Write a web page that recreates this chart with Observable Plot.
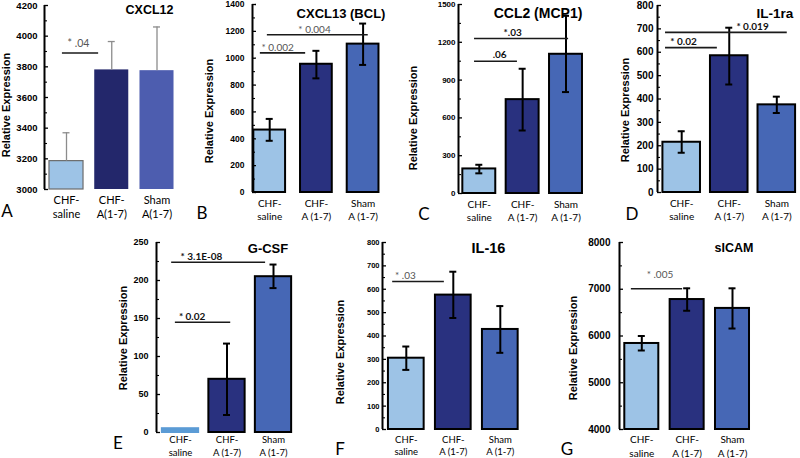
<!DOCTYPE html>
<html>
<head>
<meta charset="utf-8">
<script src="https://cdn.jsdelivr.net/npm/d3@7"></script>
<script src="https://cdn.jsdelivr.net/npm/@observablehq/plot@0.6"></script>
<style>
  html, body { margin: 0; padding: 0; background: #fff; }
  #fig { position: relative; width: 800px; height: 458px; overflow: hidden; background: #fff; }
  #fig svg { position: absolute; overflow: visible; background: transparent; }
  .lbl { position: absolute; white-space: nowrap; transform: translate(-50%, -50%); line-height: 1; }
  .ytitle { font-family: "Liberation Sans", Arial, sans-serif; font-weight: bold; font-size: 11px; color: #000; }
  .ptitle { font-family: "Liberation Sans", Arial, sans-serif; font-weight: bold; color: #000; }
  .letter { font-family: Lato, "Open Sans", sans-serif; font-size: 17px; color: #000; }
</style>
</head>
<body>
<div id="fig"></div>
<script>
// ---------- categories ----------
const groupsA = ["CHF-\nsaline", "CHF-\nA(1-7)", "Sham\nA(1-7)"];
const groups = ["CHF-\nsaline", "CHF-\nA (1-7)", "Sham\nA (1-7)"];
const yTitle = "Relative Expression";

// ---------- A: CXCL12 ----------
const cxcl12Mean = [3185, 3780, 3775];
const cxcl12Lo = [null, null, null];
const cxcl12Hi = [3370, 3965, 4060];
const cxcl12Ticks = [3000, 3200, 3400, 3600, 3800, 4000, 4200];
const cxcl12Sig = [{y: 3890, from: -0.09, to: 0.71, at: 0.265, label: "* .04"}];

// ---------- B: CXCL13 (BCL) ----------
const cxcl13Mean = [465, 955, 1105];
const cxcl13Lo = [385, 850, 950];
const cxcl13Hi = [548, 1055, 1258];
const cxcl13Ticks = [0, 200, 400, 600, 800, 1000, 1200, 1400];
const cxcl13Sig = [
  {y: 1040, from: -0.2, to: 0.77, at: 0.17, label: "* 0.002"},
  {y: 1175, from: -0.05, to: 2.11, at: 0.96, label: "* 0.004"}
];

// ---------- C: CCL2 (MCP1) ----------
const ccl2Mean = [195, 745, 1105];
const ccl2Lo = [160, 500, 805];
const ccl2Hi = [228, 990, 1410];
const ccl2Ticks = [0, 300, 600, 900, 1200, 1500];
const ccl2Sig = [
  {y: 1050, from: -0.11, to: 0.88, at: 0.47, label: ".06"},
  {y: 1230, from: -0.11, to: 2.06, at: 0.77, label: "*.03"}
];

// ---------- D: IL-1ra ----------
const il1raMean = [215, 585, 375];
const il1raLo = [170, 462, 340];
const il1raHi = [262, 705, 410];
const il1raTicks = [0, 100, 200, 300, 400, 500, 600, 700, 800];
const il1raSig = [
  {y: 620, from: -0.34, to: 0.75, at: 0.04, label: "* 0.02"},
  {y: 685, from: -0.34, to: 2.22, at: 1.49, label: "* 0.019"}
];

// ---------- E: G-CSF ----------
const gcsfMean = [5, 70, 205];
const gcsfLo = [null, 23, 190];
const gcsfHi = [null, 117, 221];
const gcsfTicks = [0, 50, 100, 150, 200, 250];
const gcsfSig = [
  {y: 145, from: -0.11, to: 1.08, at: 0.25, label: "* 0.02"},
  {y: 224, from: -0.19, to: 1.83, at: 0.45, label: "* 3.1E-08"}
];

// ---------- F: IL-16 ----------
const il16Mean = [305, 575, 428];
const il16Lo = [255, 477, 328];
const il16Hi = [355, 675, 528];
const il16Ticks = [0, 100, 200, 300, 400, 500, 600, 700, 800];
const il16Sig = [{y: 633, from: -0.29, to: 0.81, at: -0.02, label: "* .03"}];

// ---------- G: sICAM ----------
const sicamMean = [5840, 6780, 6590];
const sicamLo = [5690, 6540, 6160];
const sicamHi = [6000, 7020, 7020];
const sicamTicks = [4000, 5000, 6000, 7000, 8000];
const sicamSig = [{y: 7010, from: -0.23, to: 0.9, at: 0.4, label: "* .005"}];

// ---------- colours ----------
const colorsA = ["#9dc3e6", "#23276b", "#4d5daf"];
const colors = ["#9dc3e6", "#29317f", "#4667b5"];
const colorsE = ["#5b9bd5", "#29317f", "#4667b5"];

// ---------- layout (page pixels) ----------
const panels = [
  {letter: "A", title: "CXCL12", groups: groupsA, mean: cxcl12Mean, lo: cxcl12Lo, hi: cxcl12Hi, ticks: cxcl12Ticks, sig: cxcl12Sig, colors: colorsA,
   axisX: 44, rightX: 180, yTop: 5, yBot: 189, c0: 66, step: 45.25, hw: 0.376,
   tickFont: 9.5, tickFamily: "Liberation Sans", tickGap: 7, xlFont: 11, xlDy: 4.5, xlLH: 1.3, sigFont: 10.5, sigBold: false, sigFill: "#555", sigDy: -6,
   errColor: "#8c8c8c", errW: 1.3, barStroke: ["#6b6b6b", "none", "none"], barSW: 1.2,
   titlePos: [149.5, 10], titleSize: 12.5, letterPos: [7, 210], yTitlePos: [6, 105]},
  {letter: "B", title: "CXCL13 (BCL)", groups, mean: cxcl13Mean, lo: cxcl13Lo, hi: cxcl13Hi, ticks: cxcl13Ticks, sig: cxcl13Sig, colors,
   axisX: 252, rightX: 383, yTop: 4, yBot: 192, c0: 269.2, step: 46.7, hw: 0.34,
   tickFont: 8.5, tickFamily: "Liberation Sans", tickGap: 8, xlFont: 10, xlDy: 4.5, xlLH: 1.35, sigFont: 10, sigBold: false, sigFill: "#555", sigDy: -1.5,
   errColor: "#000", errW: 2, barStroke: ["#000", "#000", "#000"], barSW: 2,
   titlePos: [341, 12.5], titleSize: 13, letterPos: [202, 212], yTitlePos: [209, 111]},
  {letter: "C", title: "CCL2 (MCP1)", groups, mean: ccl2Mean, lo: ccl2Lo, hi: ccl2Hi, ticks: ccl2Ticks, sig: ccl2Sig, colors,
   axisX: 458, rightX: 587, yTop: 4, yBot: 193, c0: 478.8, step: 43.35, hw: 0.38,
   tickFont: 8, tickFamily: "Liberation Sans", tickGap: 3, xlFont: 10, xlDy: 4.5, xlLH: 1.35, sigFont: 10, sigBold: true, sigFill: "#111", sigDy: -3,
   errColor: "#000", errW: 2, barStroke: ["#000", "#000", "#000"], barSW: 2,
   titlePos: [538, 13], titleSize: 14, letterPos: [424, 213], yTitlePos: [413, 118]},
  {letter: "D", title: "IL-1ra", groups, mean: il1raMean, lo: il1raLo, hi: il1raHi, ticks: il1raTicks, sig: il1raSig, colors,
   axisX: 657, rightX: 799, yTop: 5, yBot: 192, c0: 681.2, step: 47.55, hw: 0.395,
   tickFont: 10, tickFamily: "Liberation Sans", tickGap: 4, xlFont: 10, xlDy: 4.5, xlLH: 1.35, sigFont: 10, sigBold: true, sigFill: "#111", sigDy: -2.5,
   errColor: "#000", errW: 2, barStroke: ["#000", "#000", "#000"], barSW: 2,
   titlePos: [775, 14], titleSize: 13.5, letterPos: [632, 213], yTitlePos: [625, 110]},
  {letter: "E", title: "G-CSF", groups, mean: gcsfMean, lo: gcsfLo, hi: gcsfHi, ticks: gcsfTicks, sig: gcsfSig, colors: colorsE,
   axisX: 156, rightX: 298, yTop: 242, yBot: 432, c0: 180, step: 46.5, hw: 0.39,
   tickFont: 9, tickFamily: "Liberation Sans", tickGap: 8, xlFont: 9.5, xlDy: 2, xlLH: 1.3, sigFont: 10, sigBold: true, sigFill: "#111", sigDy: -2,
   errColor: "#000", errW: 2, barStroke: ["#5b9bd5", "#000", "#000"], barSW: 2,
   titlePos: [268, 248], titleSize: 13, letterPos: [118, 442], yTitlePos: [123, 338]},
  {letter: "F", title: "IL-16", groups, mean: il16Mean, lo: il16Lo, hi: il16Hi, ticks: il16Ticks, sig: il16Sig, colors,
   axisX: 382, rightX: 524, yTop: 242, yBot: 429, c0: 405.8, step: 47, hw: 0.38,
   tickFont: 7.5, tickFamily: "Liberation Sans", tickGap: 3, xlFont: 9.5, xlDy: 4, xlLH: 1.35, sigFont: 10, sigBold: false, sigFill: "#555", sigDy: -3,
   errColor: "#000", errW: 2, barStroke: ["#000", "#000", "#000"], barSW: 2,
   titlePos: [488.5, 248], titleSize: 14.5, letterPos: [340, 448], yTitlePos: [340, 352]},
  {letter: "G", title: "sICAM", groups, mean: sicamMean, lo: sicamLo, hi: sicamHi, ticks: sicamTicks, sig: sicamSig, colors,
   axisX: 619, rightX: 755, yTop: 242, yBot: 429, c0: 641.3, step: 45.35, hw: 0.375,
   tickFont: 10, tickFamily: "Liberation Sans", tickGap: 9, xlFont: 10, xlDy: 4, xlLH: 1.35, sigFont: 10, sigBold: false, sigFill: "#555", sigDy: -11,
   errColor: "#000", errW: 2, barStroke: ["#000", "#000", "#000"], barSW: 2,
   titlePos: [734, 248], titleSize: 12.5, letterPos: [567, 448], yTitlePos: [573, 348]}
];

const fig = document.getElementById("fig");

function addLabel(text, cls, pos, extra) {
  const d = document.createElement("div");
  d.className = "lbl " + cls;
  d.textContent = text;
  d.style.left = pos[0] + "px";
  d.style.top = pos[1] + "px";
  if (extra) Object.assign(d.style, extra);
  fig.appendChild(d);
  return d;
}

for (const p of panels) {
  const left = p.axisX - 46;
  const top = p.yTop - 8;
  const width = p.rightX - left + 3;
  const height = Math.min(p.yBot + 30, 458) - top;
  const mL = p.axisX - left, mT = p.yTop - top;
  const mR = width - (p.rightX - left), mB = height - (p.yBot - top);
  const plotW = p.rightX - p.axisX;
  const xDom = [(p.axisX - p.c0) / p.step, (p.rightX - p.c0) / p.step];
  const yDom = [p.ticks[0], p.ticks[p.ticks.length - 1]];
  const half = (p.ticks[1] - p.ticks[0]) / 2;
  const minor = p.ticks.slice(0, -1).map(t => t + half);
  const cap = 3.5 / p.step;

  const rows = p.groups.map((g, i) => ({
    i, label: g, mean: p.mean[i], lo: p.lo[i], hi: p.hi[i], fill: p.colors[i], stroke: p.barStroke[i]
  }));
  const errRows = rows.filter(d => d.hi != null);
  const loRows = rows.filter(d => d.lo != null);

  const chart = Plot.plot({
    width, height,
    marginLeft: mL, marginRight: mR, marginTop: mT, marginBottom: mB,
    x: {domain: xDom, axis: null},
    y: {domain: yDom, axis: null},
    color: {type: "identity"},
    style: {fontFamily: "Liberation Sans, Arial, sans-serif", background: "transparent", overflow: "visible"},
    marks: [
      Plot.rectY(rows, {
        x1: d => d.i - p.hw, x2: d => d.i + p.hw,
        y1: d => yDom[0], y2: "mean",
        fill: "fill", stroke: "stroke", strokeWidth: p.barSW
      }),
      Plot.ruleX(errRows, {x: "i", y1: d => d.lo ?? d.mean, y2: "hi", stroke: p.errColor, strokeWidth: p.errW}),
      Plot.ruleY(errRows, {y: "hi", x1: d => d.i - cap, x2: d => d.i + cap, stroke: p.errColor, strokeWidth: p.errW}),
      Plot.ruleY(loRows, {y: "lo", x1: d => d.i - cap, x2: d => d.i + cap, stroke: p.errColor, strokeWidth: p.errW}),
      Plot.ruleY(p.sig, {y: "y", x1: "from", x2: "to", stroke: "#1a1a1a", strokeWidth: 1.6}),
      Plot.text(p.sig, {
        x: "at", y: "y", text: "label", lineAnchor: "bottom", dy: p.sigDy,
        fontSize: p.sigFont, fontFamily: "Lato, Open Sans, sans-serif",
        fontWeight: p.sigBold ? "bold" : "normal", fill: p.sigFill
      }),
      Plot.tickY(p.ticks, {y: d => d, insetRight: plotW - 4, stroke: "#000", strokeWidth: 1.3}),
      Plot.tickY(minor, {y: d => d, insetRight: plotW - 3, stroke: "#000", strokeWidth: 1.1}),
      Plot.ruleX([xDom[0]], {stroke: "#000", strokeWidth: 2}),
      Plot.axisY(p.ticks, {
        tickSize: 0, tickPadding: p.tickGap, label: null, tickFormat: d => String(d),
        fontSize: p.tickFont, fontFamily: p.tickFamily, fontWeight: "bold", fill: "#000"
      }),
      Plot.text(rows, {
        x: "i", y: d => yDom[0], text: "label", lineAnchor: "top", dy: p.xlDy,
        fontSize: p.xlFont, fontFamily: "Lato, Open Sans, sans-serif", lineHeight: p.xlLH, fill: "#000"
      })
    ]
  });
  chart.style.left = left + "px";
  chart.style.top = top + "px";
  fig.appendChild(chart);

  addLabel(p.title, "ptitle", p.titlePos, {fontSize: p.titleSize + "px"});
  addLabel(p.letter, "letter", p.letterPos);
  addLabel(yTitle, "ytitle", p.yTitlePos, {transform: "translate(-50%, -50%) rotate(-90deg)"});
}
</script>
</body>
</html>
